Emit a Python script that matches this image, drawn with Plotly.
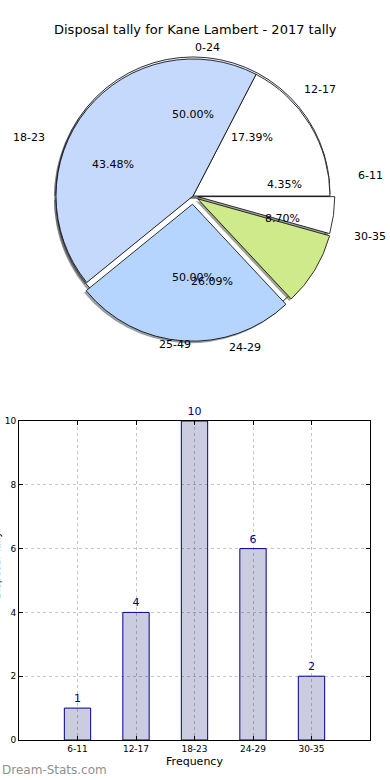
import numpy as np
import plotly.graph_objects as go

# ---------------- data ----------------
chart_title = "Disposal tally for Kane Lambert - 2017 tally"
age_groups = ["6-11", "12-17", "18-23", "24-29", "30-35"]
tally = [1, 4, 10, 6, 2]
half_groups = ["0-24", "25-49"]
half_share = [1, 1]
y_ticks = [0, 2, 4, 6, 8, 10]
bar_axis_title = "Frequency"
y_axis_title = "Disposal Tally"
watermark = "Dream-Stats.com"

# ---------------- styling ----------------
W, H = 390, 780
FONT = "DejaVu Sans"
CX, CY, R = 193, 196, 137          # pie centre / radius in px
RX_T, RY_T = 145, 133              # radii used for text placement
front_colors = ["#ffffff", "#ffffff", "#c5d9fd", "#b6d5fe", "#cfea8b"]
front_pull = [0.035, 0.0, 0.0, 0.06, 0.04]
back_colors = ["#ffffff", "#e6eefc"]
back_pull = [0.015, 0.015]
SHX, SHY = -2, 2                   # shadow offset px


def domain(cx, cy, pull):
    s = 2 * R * (1 + max(pull))
    return dict(x=[(cx - s / 2) / W, (cx + s / 2) / W],
                y=[1 - (cy + s / 2) / H, 1 - (cy - s / 2) / H])


def shade(hexc):
    h = hexc.lstrip("#")
    r, g, b = (int(h[i:i + 2], 16) for i in (0, 2, 4))
    return f"rgba({int(r*0.3)},{int(g*0.3)},{int(b*0.3)},0.5)"


def pie(labels, values, colors, pull, cx, cy, line_w):
    return go.Pie(labels=labels, values=values, sort=False,
                  direction="counterclockwise", rotation=90,
                  pull=pull, textinfo="none", hoverinfo="skip",
                  showlegend=False,
                  marker=dict(colors=colors,
                              line=dict(color="black", width=line_w)),
                  domain=domain(cx, cy, pull))


fig = go.Figure()
# background pie (0-24 / 25-49) with shadow
fig.add_trace(pie(half_groups, half_share, [shade(c) for c in back_colors],
                  back_pull, CX + SHX, CY + SHY, 0))
fig.add_trace(pie(half_groups, half_share, back_colors, back_pull, CX, CY, 0.8))
# front pie (age groups) with shadow
fig.add_trace(pie(age_groups, tally, [shade(c) for c in front_colors],
                  front_pull, CX + SHX, CY + SHY, 0))
fig.add_trace(pie(age_groups, tally, front_colors, front_pull, CX, CY, 0.8))

annotations = []


def pie_text(labels, values, pull):
    vals = np.asarray(values, dtype=float)
    frac = vals / vals.sum()
    start = np.concatenate([[0], np.cumsum(frac)[:-1]])
    for lab, f, s0, p in zip(labels, frac, start, pull):
        th = 2 * np.pi * (s0 + f / 2)
        c, s = np.cos(th), np.sin(th)
        ox, oy = p * RX_T * c, p * RY_T * s
        lx = CX + ox + 1.1 * RX_T * c
        ly = CY - oy - 1.1 * RY_T * s
        annotations.append(dict(x=lx / W, y=1 - ly / H, xref="paper", yref="paper",
                                text=lab, showarrow=False,
                                xanchor="left" if c > 0 else "right",
                                yanchor="middle",
                                font=dict(family=FONT, size=11, color="black")))
        px = CX + ox + 0.6 * RX_T * c
        py = CY - oy - 0.6 * RY_T * s
        annotations.append(dict(x=px / W, y=1 - py / H, xref="paper", yref="paper",
                                text=f"{f*100:.2f}%", showarrow=False,
                                xanchor="center", yanchor="middle",
                                font=dict(family=FONT, size=11, color="black")))


pie_text(half_groups, half_share, back_pull)
pie_text(age_groups, tally, front_pull)

# ---------------- bar chart ----------------
fig.add_trace(go.Bar(x=age_groups, y=tally, width=0.45,
                     marker=dict(color="rgba(0,0,100,0.2)",
                                 line=dict(color="#00008b", width=1)),
                     text=[str(v) for v in tally], textposition="outside",
                     textfont=dict(family=FONT, size=11, color="#00008b"),
                     cliponaxis=False, hoverinfo="skip", showlegend=False,
                     xaxis="x", yaxis="y"))

axis_common = dict(showline=True, linecolor="black", linewidth=1, mirror="ticks",
                   ticks="inside", ticklen=4, tickcolor="black", automargin=False,
                   showgrid=True, gridcolor="#c4c4c4", griddash="dot", gridwidth=1,
                   zeroline=False, tickfont=dict(family=FONT, size=9, color="black"))

fig.update_layout(
    width=W, height=H, margin=dict(l=0, r=0, t=0, b=0, pad=0, autoexpand=False),
    paper_bgcolor="white", plot_bgcolor="white",
    font=dict(family=FONT),
    xaxis=dict(domain=[19 / W, 370 / W], type="category", range=[-1, 5],
               title=dict(text=bar_axis_title, standoff=4,
                          font=dict(family=FONT, size=11, color="black")),
               **axis_common),
    yaxis=dict(domain=[1 - 740 / H, 1 - 421 / H], range=[0, 10],
               tickvals=y_ticks, **axis_common),
    annotations=annotations + [
        dict(x=195 / W, y=1 - 30 / H, xref="paper", yref="paper", text=chart_title,
             showarrow=False, xanchor="center", yanchor="middle",
             font=dict(family=FONT, size=13, color="black")),
        dict(x=-4 / W, y=1 - 565 / H, xref="paper", yref="paper", text=y_axis_title,
             textangle=-90, showarrow=False, xanchor="center", yanchor="middle",
             font=dict(family=FONT, size=10, color="black")),
        dict(x=0, y=1 - 770 / H, xref="paper", yref="paper", text=watermark,
             showarrow=False, xanchor="left", yanchor="middle",
             font=dict(family=FONT, size=12, color="#8f8f8f")),
    ],
)

fig.write_html("out.html", config={"displayModeBar": False},
               post_script="document.body.style.margin='0';")
